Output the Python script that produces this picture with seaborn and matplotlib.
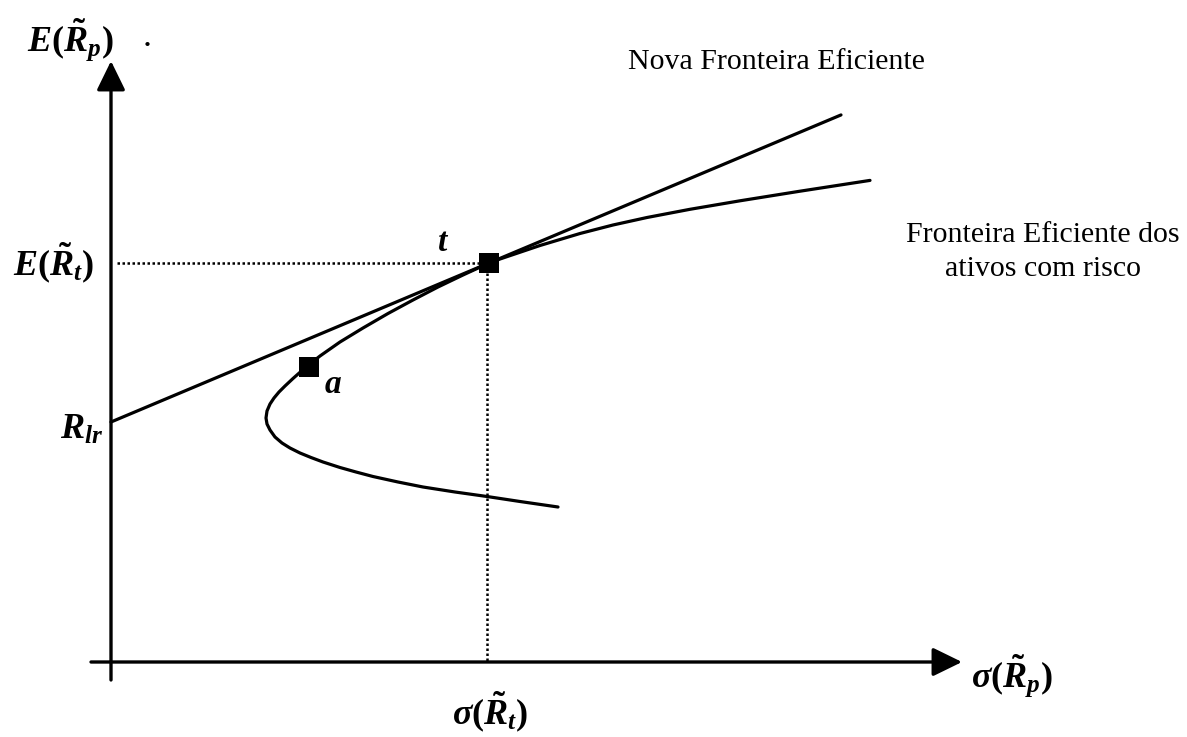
import matplotlib
matplotlib.use("Agg")
import matplotlib.pyplot as plt
import seaborn as sns
import pandas as pd

# Risky-asset efficient frontier (sigma, expected return), lower branch -> upper branch
frontier_sigma = [4.47, 4.09, 3.76, 3.44, 3.12, 2.87, 2.62, 2.45, 2.29, 2.12, 2.00,
                  1.89, 1.79, 1.71, 1.64, 1.59, 1.56, 1.55, 1.56, 1.59, 1.63, 1.68,
                  1.74, 1.82, 1.95, 2.09, 2.29, 2.52, 2.77, 3.02, 3.27, 3.52, 3.78,
                  3.89, 4.29, 4.69, 5.02, 5.36, 5.79, 6.29, 6.89, 7.59]
frontier_ret = [1.55, 1.605, 1.655, 1.70, 1.75, 1.80, 1.855, 1.90, 1.945, 2.00, 2.045,
                2.09, 2.14, 2.19, 2.25, 2.32, 2.38, 2.44, 2.51, 2.58, 2.64, 2.70,
                2.76, 2.835, 2.95, 3.06, 3.20, 3.34, 3.485, 3.62, 3.75, 3.87, 3.99,
                4.03, 4.165, 4.285, 4.37, 4.445, 4.527, 4.612, 4.708, 4.816]

# Risk-free rate and the two highlighted portfolios
risk_free = 2.40
point_names = ["t", "a"]
point_sigma = [3.78, 1.98]
point_ret = [3.99, 2.95]

# New efficient frontier runs from R_lr through t
cml_sigma_end = 7.30

sns.set_theme(style="white")
plt.rcParams["font.family"] = ["Liberation Serif", "DejaVu Serif"]
plt.rcParams["text.color"] = "black"
plt.rcParams["mathtext.fontset"] = "custom"
plt.rcParams["mathtext.rm"] = "Liberation Serif:bold"
plt.rcParams["mathtext.it"] = "Liberation Serif:italic:bold"
plt.rcParams["mathtext.bf"] = "Liberation Serif:bold"

fig = plt.figure(figsize=(11.87, 7.37), dpi=100)
ax = fig.add_axes([0, 0, 1, 1])
ax.set_xlim(-1.11, 10.76)
ax.set_ylim(-0.75, 6.62)
ax.axis("off")

line_kw = dict(color="black", lw=2.3, solid_joinstyle="round", solid_capstyle="round")

frontier = pd.DataFrame({"sigma": frontier_sigma, "ret": frontier_ret})
sns.lineplot(data=frontier, x="sigma", y="ret", sort=False, estimator=None, ax=ax, **line_kw)

slope = (point_ret[0] - risk_free) / point_sigma[0]
cml = pd.DataFrame({"sigma": [0.0, cml_sigma_end],
                    "ret": [risk_free, risk_free + slope * cml_sigma_end]})
sns.lineplot(data=cml, x="sigma", y="ret", sort=False, estimator=None, ax=ax, **line_kw)

# Dotted guides to the tangency portfolio
ax.plot([0.06, point_sigma[0]], [point_ret[0], point_ret[0]],
        color="black", lw=1.8, ls=(0, (1, 1)))
ax.plot([point_sigma[0] - 0.02, point_sigma[0] - 0.02], [point_ret[0], 0],
        color="black", lw=1.8, ls=(0, (1, 1)))

pts = pd.DataFrame({"name": point_names, "sigma": point_sigma, "ret": point_ret})
sns.scatterplot(data=pts, x="sigma", y="ret", marker="s", s=210, color="black",
                linewidth=0, ax=ax, zorder=5)

# Axes with arrow heads
arrow = dict(arrowstyle="-|>,head_length=0.45,head_width=0.22", mutation_scale=40,
             lw=2.4, color="black", shrinkA=0, shrinkB=0)
ax.annotate("", xy=(0, 6.01), xytext=(0, -0.18), arrowprops=arrow)
ax.annotate("", xy=(8.51, 0), xytext=(-0.20, 0), arrowprops=arrow)

math_size = 26
ax.text(-0.41, 6.22, r"$E(\tilde{R}_p)$", fontsize=math_size, ha="center", va="center")
ax.text(0.36, 6.24, ".", fontsize=math_size, ha="center", va="center")
ax.text(-0.17, 3.99, r"$E(\tilde{R}_t)$", fontsize=math_size, ha="right", va="center")
ax.text(-0.08, 2.32, r"$R_{lr}$", fontsize=math_size, ha="right", va="center")
ax.text(3.32, 4.19, r"$t$", fontsize=24, ha="center", va="center")
ax.text(2.22, 2.77, r"$a$", fontsize=24, ha="center", va="center")
ax.text(3.79, -0.50, r"$\sigma(\tilde{R}_t)$", fontsize=math_size, ha="center", va="center")
ax.text(8.60, -0.14, r"$\sigma(\tilde{R}_p)$", fontsize=math_size, ha="left", va="center")

ax.text(6.65, 6.00, "Nova Fronteira Eficiente", fontsize=21.5, ha="center", va="center")
ax.text(9.32, 4.10, "Fronteira Eficiente dos\nativos com risco", fontsize=21.5,
        ha="center", va="center", linespacing=1.4)

fig.savefig("out.png", dpi=100)
